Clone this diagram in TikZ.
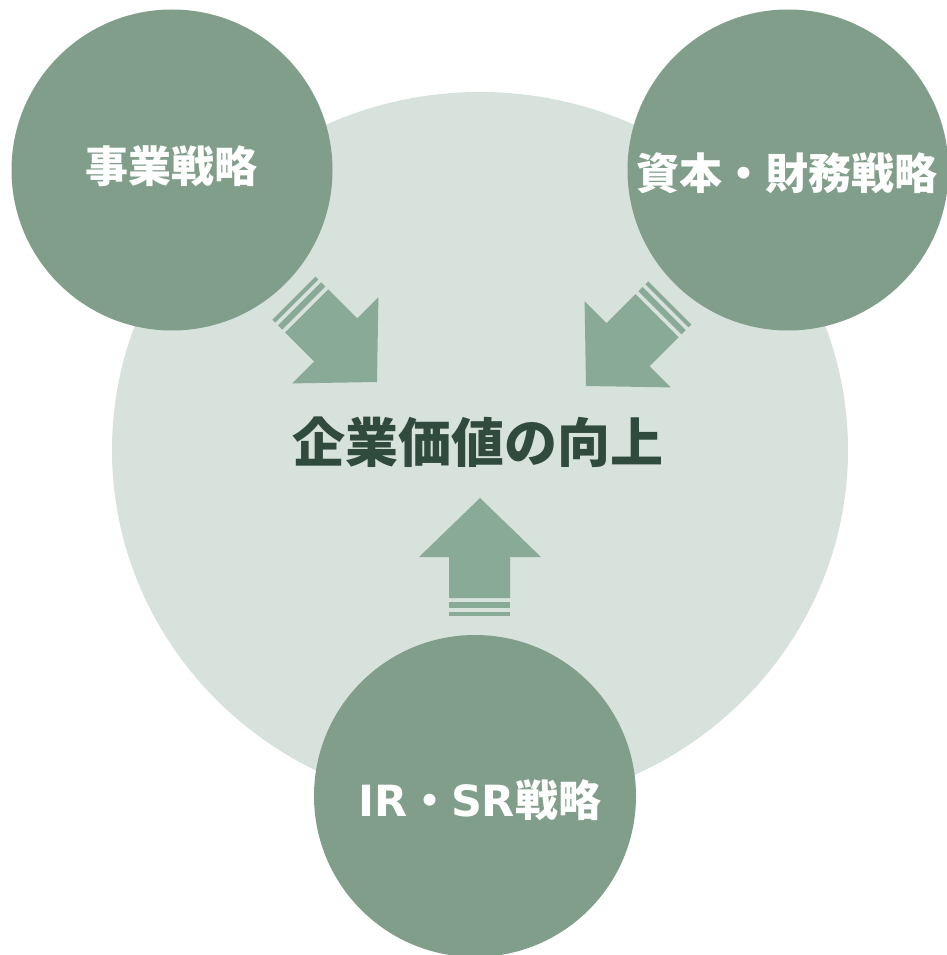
\documentclass[tikz,border=0pt]{standalone}
\usepackage{fontspec}
\newfontfamily\cjk{Noto Sans CJK JP}
\newfontfamily\latn{DejaVu Sans}
\definecolor{darkc}{HTML}{809E8A}
\definecolor{lightc}{HTML}{D7E2DC}
\definecolor{arrowc}{HTML}{88AA96}
\definecolor{titlec}{HTML}{304A3D}
\tikzset{
  darkcircle/.style={circle, fill=darkc, draw=none, inner sep=0pt},
  whitetext/.style={text=white, inner sep=0pt, font=\cjk\bfseries\fontsize{43}{43}\selectfont},
  arrowfill/.style={fill=arrowc, draw=none},
}
\newcommand{\bigarrowshape}{%
  \fill[arrowfill] (0,0) -- (61,59) -- (30,59) -- (30,100) -- (-31,100) -- (-31,59) -- (-61,59) -- cycle;
  \fill[arrowfill] (-31,104) rectangle (30,110);
  \fill[arrowfill] (-31,114) rectangle (30,118);
}
\begin{document}
\begin{tikzpicture}[x=1pt, y=-1pt]
\useasboundingbox (0,0) rectangle (946,955);
% big light ellipse
\fill[lightc] (480,450) ellipse [x radius=368, y radius=358];
% arrows
\begin{scope}[shift={(480,498)}]
  \bigarrowshape
\end{scope}
\begin{scope}[shift={(377,382)}, rotate=-135]
  \bigarrowshape
\end{scope}
\begin{scope}[shift={(586,386)}, rotate=135]
  \bigarrowshape
\end{scope}
% circles
\node[darkcircle, minimum size=321pt] (biz) at (172,170) {};
\node[darkcircle, minimum size=321pt] (fin) at (788,170) {};
\node[darkcircle, minimum size=322pt] (ir) at (475,796) {};
% texts
\node[whitetext] (biztext) at (171,166) {事業戦略};
\node[whitetext] (fintext) at (786.5,173) {資本・財務戦略};
\node[whitetext] (irtext) at (480,800) {{\latn\bfseries IR}・{\latn\bfseries SR}戦略};
\node[inner sep=0pt, text=titlec, font=\cjk\bfseries\fontsize{53}{53}\selectfont] (title) at (477.5,442) {企業価値の向上};
\end{tikzpicture}
\end{document}
